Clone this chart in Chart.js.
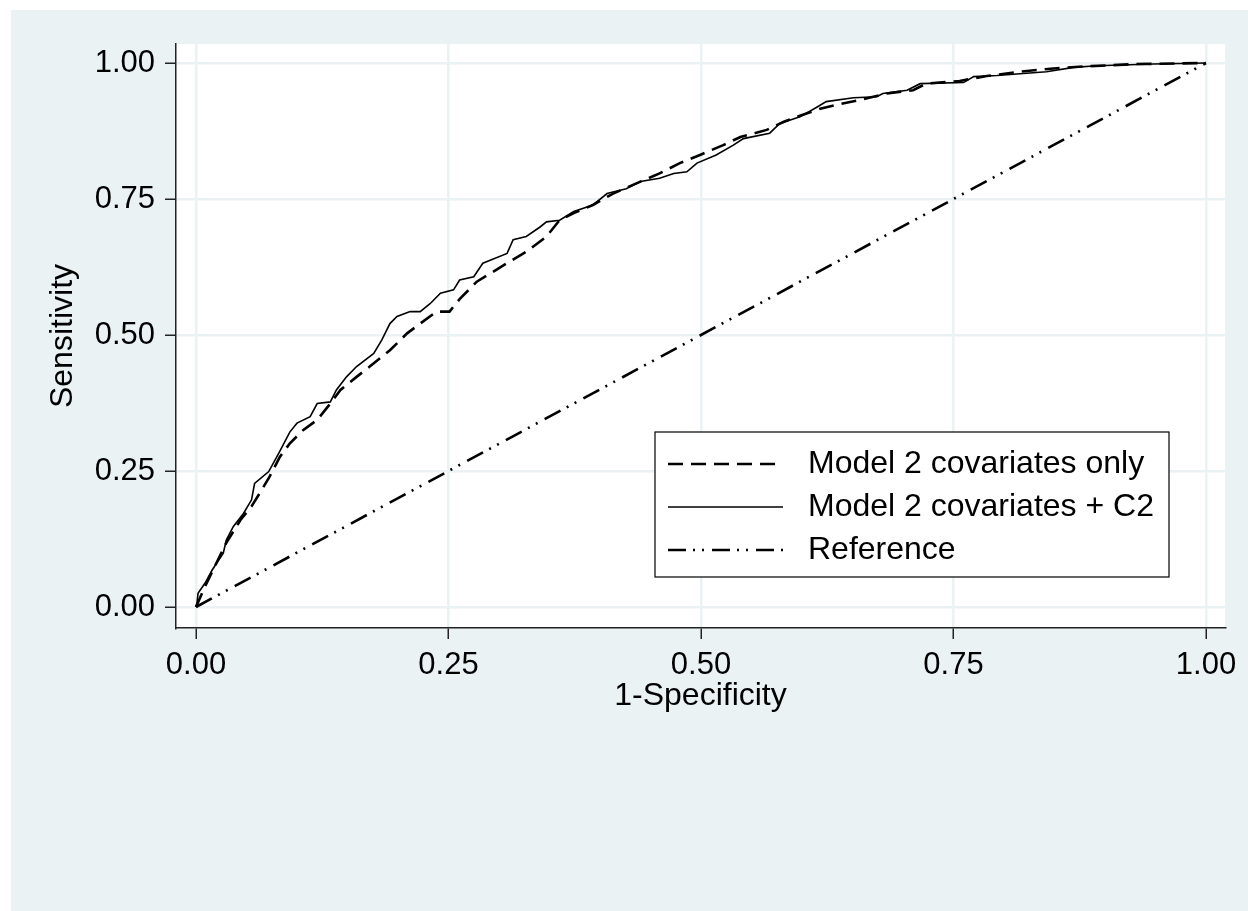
<!DOCTYPE html>
<html>
<head>
<meta charset="utf-8">
<title>ROC curves</title>
<script src="https://cdn.jsdelivr.net/npm/chart.js@4.4.1/dist/chart.umd.min.js"></script>
<style>
  html, body { margin: 0; padding: 0; background: #fff; }
  canvas { display: block; }
</style>
</head>
<body>
<canvas id="rocChart" width="1248" height="911"></canvas>
<script>
// ROC points: [1-specificity, sensitivity]
const covOnly = [
  [0, 0], [0.009, 0.038], [0.020, 0.080], [0.030, 0.118], [0.044, 0.160], [0.055, 0.185],
  [0.063, 0.209], [0.073, 0.240], [0.083, 0.276], [0.093, 0.301], [0.106, 0.325], [0.120, 0.344],
  [0.133, 0.374], [0.143, 0.399], [0.159, 0.423], [0.172, 0.442], [0.192, 0.472], [0.209, 0.503],
  [0.222, 0.521], [0.238, 0.543], [0.251, 0.543], [0.261, 0.566], [0.278, 0.598], [0.294, 0.616],
  [0.308, 0.632], [0.327, 0.653], [0.347, 0.681], [0.360, 0.711], [0.374, 0.724], [0.393, 0.739],
  [0.413, 0.760], [0.440, 0.782], [0.459, 0.797], [0.479, 0.816], [0.499, 0.831], [0.522, 0.849],
  [0.539, 0.864], [0.565, 0.877], [0.582, 0.892], [0.598, 0.903], [0.618, 0.916], [0.634, 0.923],
  [0.657, 0.932], [0.684, 0.944], [0.710, 0.950], [0.723, 0.962], [0.756, 0.967], [0.783, 0.976],
  [0.816, 0.984], [0.849, 0.990], [0.882, 0.994], [0.931, 0.998], [1, 1]
];
const covPlusC2 = [
  [0, 0], [0.001, 0.007], [0.002, 0.025], [0.009, 0.044], [0.016, 0.068], [0.027, 0.099],
  [0.030, 0.123], [0.037, 0.148], [0.047, 0.172], [0.055, 0.197], [0.058, 0.227], [0.072, 0.249],
  [0.082, 0.283], [0.093, 0.322], [0.100, 0.338], [0.113, 0.350], [0.120, 0.374], [0.133, 0.377],
  [0.139, 0.399], [0.149, 0.423], [0.159, 0.442], [0.176, 0.466], [0.184, 0.491], [0.192, 0.521],
  [0.199, 0.534], [0.212, 0.543], [0.222, 0.543], [0.232, 0.558], [0.242, 0.577], [0.255, 0.583],
  [0.261, 0.601], [0.275, 0.607], [0.284, 0.632], [0.308, 0.650], [0.314, 0.675], [0.327, 0.681],
  [0.341, 0.699], [0.347, 0.708], [0.360, 0.711], [0.374, 0.727], [0.393, 0.739], [0.407, 0.760],
  [0.426, 0.769], [0.440, 0.782], [0.459, 0.788], [0.473, 0.797], [0.486, 0.800], [0.496, 0.816],
  [0.515, 0.831], [0.532, 0.849], [0.542, 0.861], [0.568, 0.871], [0.578, 0.889], [0.598, 0.901],
  [0.615, 0.919], [0.624, 0.929], [0.651, 0.936], [0.674, 0.938], [0.680, 0.944], [0.704, 0.950],
  [0.717, 0.962], [0.760, 0.964], [0.770, 0.975], [0.793, 0.977], [0.842, 0.984], [0.869, 0.992],
  [0.892, 0.995], [0.948, 0.998], [1, 1]
];
const referenceLine = [[0, 0], [1, 1]];

const seriesLabels = ["Model 2 covariates only", "Model 2 covariates + C2", "Reference"];
const tickValues = [0, 0.25, 0.5, 0.75, 1];

const FONT = "'Liberation Sans', Arial, sans-serif";
const BG = "#EAF2F3";
const AXIS = "#222";

const toPoints = arr => arr.map(p => ({ x: p[0], y: p[1] }));

// page background + white plot region
const backgroundPlugin = {
  id: "stataBackground",
  beforeDraw(chart) {
    const { ctx, chartArea } = chart;
    ctx.save();
    ctx.fillStyle = "#fff";
    ctx.fillRect(0, 0, chart.width, chart.height);
    ctx.fillStyle = BG;
    ctx.fillRect(11, 10, chart.width - 11, chart.height - 10);
    ctx.fillStyle = "#fff";
    ctx.fillRect(chartArea.left, chartArea.top, chartArea.right - chartArea.left, chartArea.bottom - chartArea.top);
    ctx.restore();
  }
};

// boxed legend inside the plot, like Stata's ring(0) legend
const legendPlugin = {
  id: "boxLegend",
  afterDraw(chart) {
    const ctx = chart.ctx;
    const box = { x: 655, y: 432, w: 514, h: 145 };
    const rows = [464, 507, 550];
    ctx.save();
    ctx.fillStyle = "#fff";
    ctx.fillRect(box.x, box.y, box.w, box.h);
    ctx.strokeStyle = "#000";
    ctx.lineWidth = 1.2;
    ctx.setLineDash([]);
    ctx.strokeRect(box.x, box.y, box.w, box.h);
    chart.data.datasets.forEach((ds, i) => {
      ctx.beginPath();
      ctx.setLineDash(ds.borderDash || []);
      ctx.lineWidth = ds.borderWidth;
      ctx.strokeStyle = ds.borderColor;
      ctx.moveTo(668, rows[i]);
      ctx.lineTo(783, rows[i]);
      ctx.stroke();
      ctx.setLineDash([]);
      ctx.fillStyle = "#000";
      ctx.font = "32px " + FONT;
      ctx.textBaseline = "middle";
      ctx.textAlign = "left";
      ctx.fillText(ds.label, 808, rows[i]);
    });
    ctx.restore();
  }
};

new Chart(document.getElementById("rocChart"), {
  type: "line",
  data: {
    datasets: [
      {
        label: seriesLabels[0],
        data: toPoints(covOnly),
        borderColor: "#000",
        borderWidth: 2.6,
        borderDash: [15, 8],
        pointRadius: 0,
        tension: 0
      },
      {
        label: seriesLabels[1],
        data: toPoints(covPlusC2),
        borderColor: "#000",
        borderWidth: 1.6,
        pointRadius: 0,
        tension: 0
      },
      {
        label: seriesLabels[2],
        data: toPoints(referenceLine),
        borderColor: "#000",
        borderWidth: 2.6,
        borderDash: [18, 7, 2, 7, 2, 8],
        pointRadius: 0,
        tension: 0
      }
    ]
  },
  options: {
    responsive: false,
    animation: false,
    layout: { padding: { left: 0, top: 44, right: 23, bottom: 0 } },
    plugins: {
      legend: { display: false },
      tooltip: { enabled: false }
    },
    scales: {
      x: {
        type: "linear",
        min: -0.0198,
        max: 1.0188,
        afterBuildTicks: scale => { scale.ticks = tickValues.map(v => ({ value: v })); },
        afterFit: scale => { scale.height = 283; scale.paddingLeft = 0; scale.paddingRight = 0; },
        ticks: {
          callback: v => v.toFixed(2),
          color: "#000",
          font: { family: FONT, size: 31 },
          padding: 8,
          maxRotation: 0
        },
        grid: { color: BG, lineWidth: 2.5, tickColor: AXIS, tickLength: 11, tickWidth: 1.5 },
        border: { display: true, color: AXIS, width: 1.5 },
        title: {
          display: true,
          text: "1-Specificity",
          color: "#000",
          font: { family: FONT, size: 32 },
          padding: { top: 0, bottom: 196 }
        }
      },
      y: {
        type: "linear",
        min: -0.0386,
        max: 1.0349,
        afterBuildTicks: scale => { scale.ticks = tickValues.map(v => ({ value: v })); },
        afterFit: scale => { scale.width = 176; scale.paddingTop = 0; scale.paddingBottom = 0; },
        ticks: {
          callback: v => v.toFixed(2),
          color: "#000",
          font: { family: FONT, size: 31 },
          padding: 10
        },
        grid: { color: BG, lineWidth: 2.5, tickColor: AXIS, tickLength: 11, tickWidth: 1.5 },
        border: { display: true, color: AXIS, width: 1.5 },
        title: {
          display: true,
          text: "Sensitivity",
          color: "#000",
          font: { family: FONT, size: 32 },
          padding: { top: 44, bottom: 0 }
        }
      }
    }
  },
  plugins: [backgroundPlugin, legendPlugin]
});
</script>
</body>
</html>
